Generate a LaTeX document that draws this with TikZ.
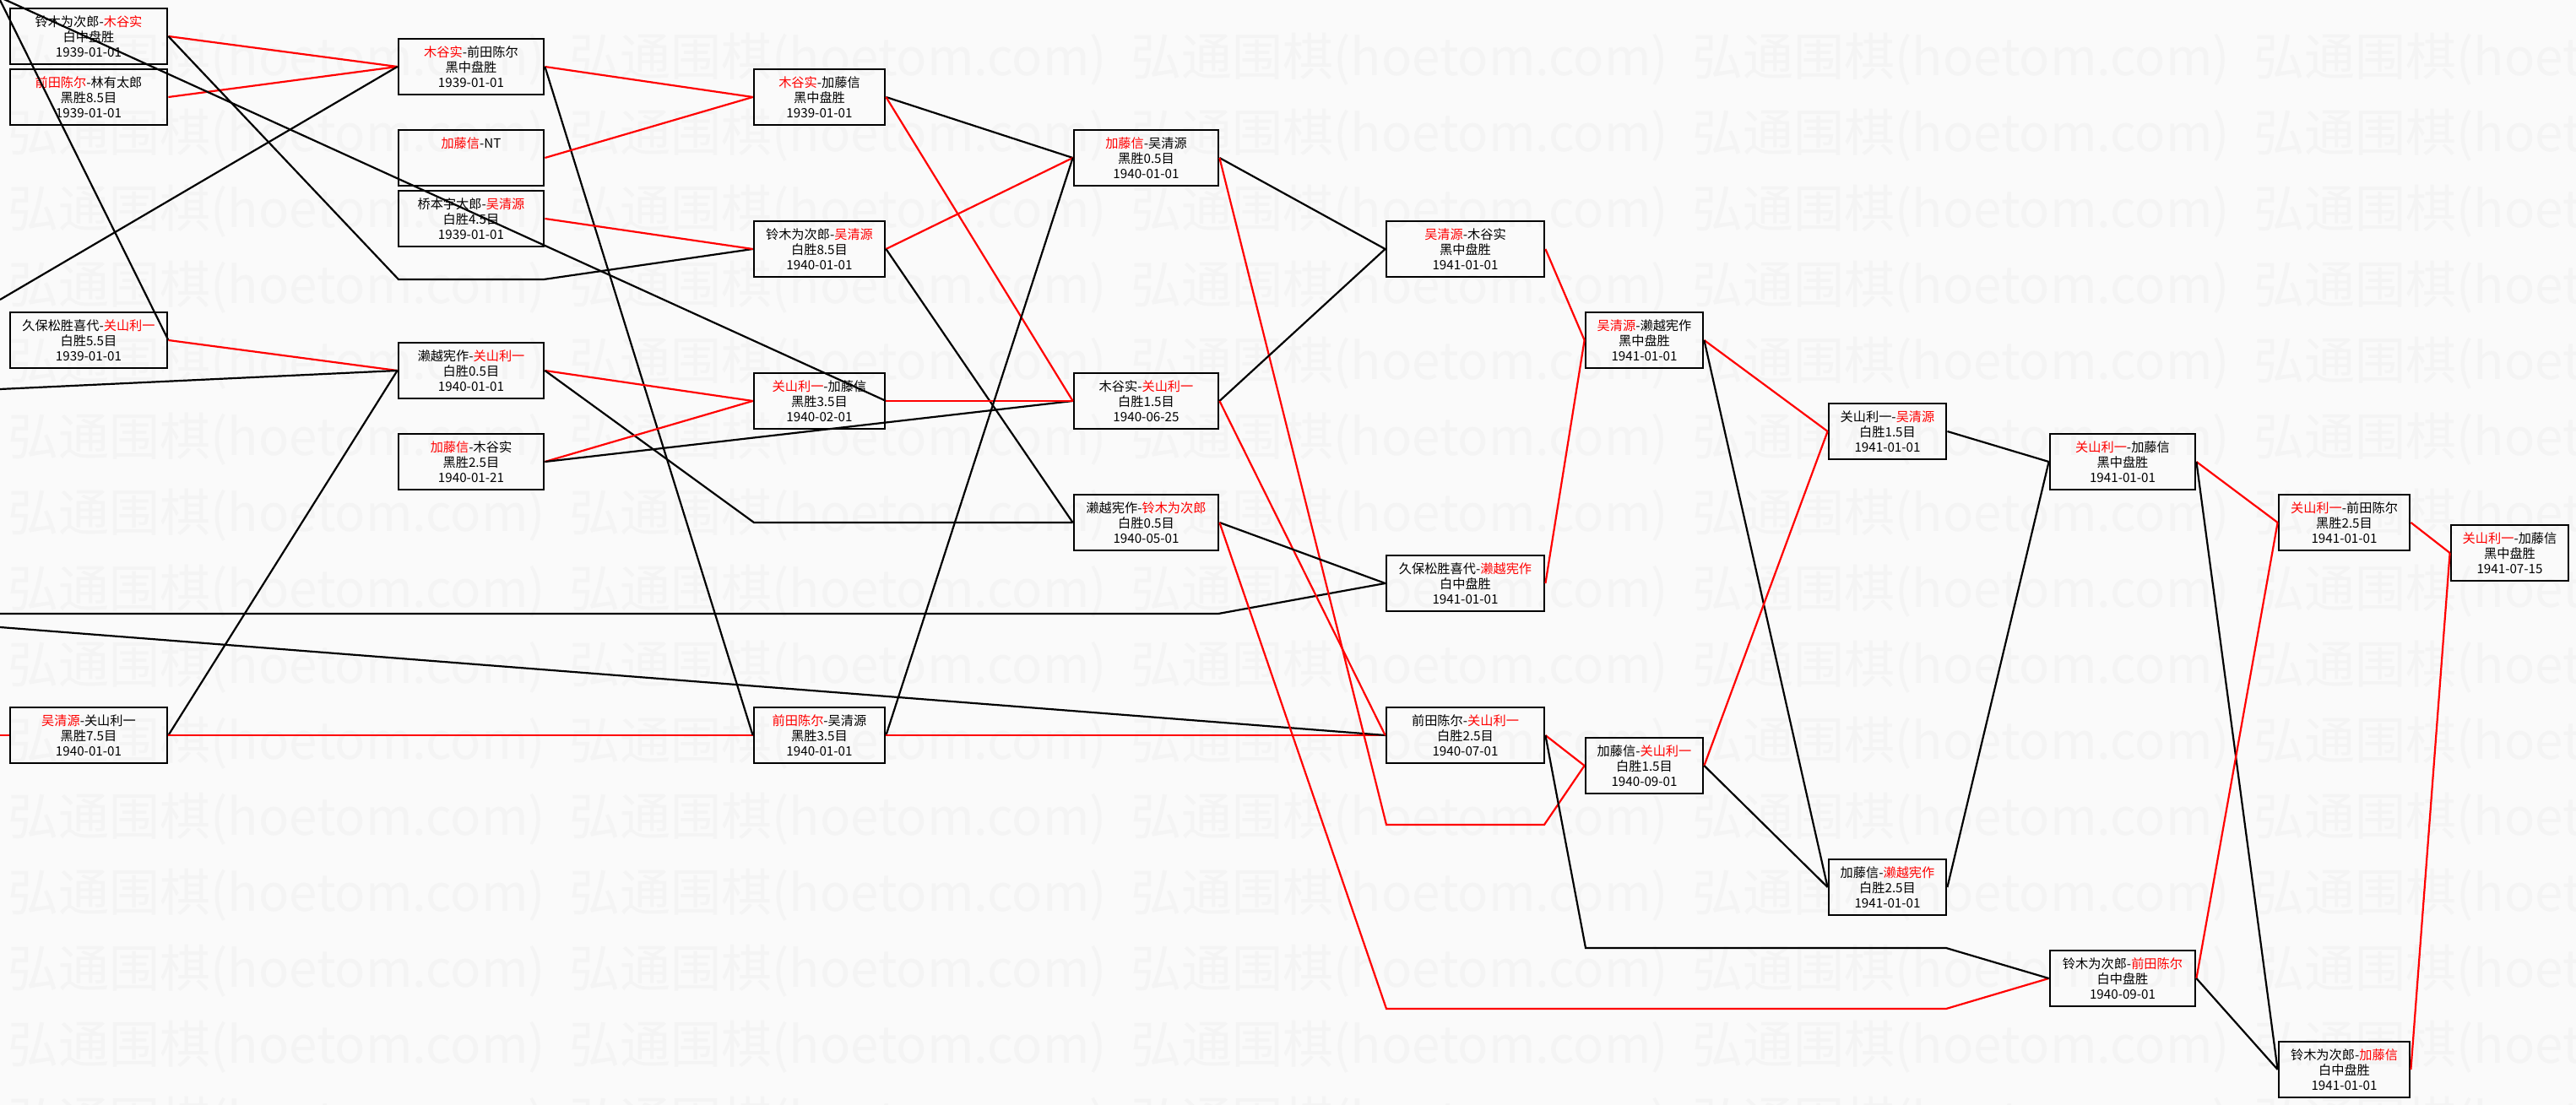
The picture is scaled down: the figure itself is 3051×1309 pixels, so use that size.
\documentclass[tikz,border=0pt]{standalone}
\usepackage{fontspec}
\setmainfont{Noto Sans CJK SC}
\usepackage{xcolor}
\newcommand{\wn}[1]{\textcolor{red}{#1}}

\begin{document}
\begin{tikzpicture}[x=0.5pt, y=-0.5pt,
    game/.style={draw, line width=1.4pt, inner sep=0pt, minimum width=#1, minimum height=33pt,
        align=center, font=\fontsize{7.6}{9}\selectfont},
    win/.style={red, line width=1.1pt},
    lose/.style={black, line width=1.1pt},
    wm/.style={anchor=west, inner sep=0pt, text=black!4.5, font=\fontsize{30}{30}\selectfont}]

    \useasboundingbox (0,0) rectangle (3051,1309);
    \clip (0,0) rectangle (3051,1309);
    \fill[black!2] (0,0) rectangle (3051,1309);

    % watermark
    \foreach \row in {0,...,14}
        \foreach \col in {0,...,4}
            \node[wm] (wm-\row-\col) at (9+665*\col, 70+90*\row) {弘通围棋(hoetom.com)};

    \node[game=93pt] (a1) at (105, 43) {铃木为次郎-\wn{木谷实}\\白中盘胜\\1939-01-01};
    \node[game=93pt] (a2) at (105, 115) {\wn{前田陈尔}-林有太郎\\黑胜8.5目\\1939-01-01};
    \node[game=93pt] (a3) at (105, 403) {久保松胜喜代-\wn{关山利一}\\白胜5.5目\\1939-01-01};
    \node[game=93pt] (a4) at (105, 871) {\wn{吴清源}-关山利一\\黑胜7.5目\\1940-01-01};

    \node[game=86pt] (b1) at (558, 79) {\wn{木谷实}-前田陈尔\\黑中盘胜\\1939-01-01};
    \node[game=86pt] (b2) at (558, 187) {\wn{加藤信}-NT\\\mbox{}\\\mbox{}};
    \node[game=86pt] (b3) at (558, 259) {桥本宇太郎-\wn{吴清源}\\白胜4.5目\\1939-01-01};
    \node[game=86pt] (b4) at (558, 439) {濑越宪作-\wn{关山利一}\\白胜0.5目\\1940-01-01};
    \node[game=86pt] (b5) at (558, 547) {\wn{加藤信}-木谷实\\黑胜2.5目\\1940-01-21};

    \node[game=77.5pt] (c1) at (970.5, 115) {\wn{木谷实}-加藤信\\黑中盘胜\\1939-01-01};
    \node[game=77.5pt] (c2) at (970.5, 295) {铃木为次郎-\wn{吴清源}\\白胜8.5目\\1940-01-01};
    \node[game=77.5pt] (c3) at (970.5, 475) {\wn{关山利一}-加藤信\\黑胜3.5目\\1940-02-01};
    \node[game=77.5pt] (c4) at (970.5, 871) {\wn{前田陈尔}-吴清源\\黑胜3.5目\\1940-01-01};

    \node[game=85.5pt] (d1) at (1357.5, 187) {\wn{加藤信}-吴清源\\黑胜0.5目\\1940-01-01};
    \node[game=85.5pt] (d2) at (1357.5, 475) {木谷实-\wn{关山利一}\\白胜1.5目\\1940-06-25};
    \node[game=85.5pt] (d3) at (1357.5, 619) {濑越宪作-\wn{铃木为次郎}\\白胜0.5目\\1940-05-01};

    \node[game=93.5pt] (e1) at (1735.5, 295) {\wn{吴清源}-木谷实\\黑中盘胜\\1941-01-01};
    \node[game=93.5pt] (e2) at (1735.5, 691) {久保松胜喜代-\wn{濑越宪作}\\白中盘胜\\1941-01-01};
    \node[game=93.5pt] (e3) at (1735.5, 871) {前田陈尔-\wn{关山利一}\\白胜2.5目\\1940-07-01};

    \node[game=69.5pt] (f1) at (1947.5, 403) {\wn{吴清源}-濑越宪作\\黑中盘胜\\1941-01-01};
    \node[game=69.5pt] (f2) at (1947.5, 907) {加藤信-\wn{关山利一}\\白胜1.5目\\1940-09-01};

    \node[game=69.5pt] (g1) at (2235.5, 511) {关山利一-\wn{吴清源}\\白胜1.5目\\1941-01-01};
    \node[game=69.5pt] (g2) at (2235.5, 1051) {加藤信-\wn{濑越宪作}\\白胜2.5目\\1941-01-01};

    \node[game=86pt] (h1) at (2514, 547) {\wn{关山利一}-加藤信\\黑中盘胜\\1941-01-01};
    \node[game=86pt] (h2) at (2514, 1159) {铃木为次郎-\wn{前田陈尔}\\白中盘胜\\1940-09-01};

    \node[game=77.5pt] (i1) at (2776.5, 619) {\wn{关山利一}-前田陈尔\\黑胜2.5目\\1941-01-01};
    \node[game=77.5pt] (i2) at (2776.5, 1267) {铃木为次郎-\wn{加藤信}\\白中盘胜\\1941-01-01};

    \node[game=69.5pt] (j1) at (2972.5, 655) {\wn{关山利一}-加藤信\\黑中盘胜\\1941-07-15};

    % ends outside the picture
    \coordinate (tl) at (-2, -4);
    \coordinate (l1) at (0, 355);
    \coordinate (l2) at (0, 461);
    \coordinate (l3) at (0, 727);
    \coordinate (l4) at (0, 743);
    \coordinate (l5) at (0, 871);

    \draw[win] (a1.east) -- (b1.west);
    \draw[win] (a2.east) -- (b1.west);
    \draw[lose] (l1) -- (b1.west);
    \draw[lose] (a1.east) -- (472, 331) -- (644, 331) -- (c2.west);
    \draw[lose] (tl) -- (a3.east);
    \draw[lose] (tl) -- (c3.east);
    \draw[win] (a3.east) -- (b4.west);
    \draw[lose] (l2) -- (b4.west);
    \draw[lose] (a4.east) -- (b4.west);
    \draw[win] (l5) -- (a4.west);
    \draw[win] (a4.east) -- (c4.west);

    \draw[win] (b1.east) -- (c1.west);
    \draw[lose] (b1.east) -- (c4.west);
    \draw[win] (b2.east) -- (c1.west);
    \draw[win] (b3.east) -- (c2.west);
    \draw[win] (b4.east) -- (c3.west);
    \draw[lose] (b4.east) -- (893, 619) -- (d3.west);
    \draw[win] (b5.east) -- (c3.west);
    \draw[lose] (b5.east) -- (d2.west);

    \draw[lose] (c1.east) -- (d1.west);
    \draw[win] (c1.east) -- (d2.west);
    \draw[win] (c2.east) -- (d1.west);
    \draw[lose] (c2.east) -- (d3.west);
    \draw[win] (c3.east) -- (d2.west);
    \draw[lose] (c4.east) -- (d1.west);
    \draw[win] (c4.east) -- (e3.west);
    \draw[lose] (l3) -- (1443, 727) -- (e2.west);
    \draw[lose] (l4) -- (e3.west);

    \draw[lose] (d1.east) -- (e1.west);
    \draw[win] (d1.east) -- (1642, 977) -- (1829, 977) -- (f2.west);
    \draw[lose] (d2.east) -- (e1.west);
    \draw[win] (d2.east) -- (e3.west);
    \draw[lose] (d3.east) -- (e2.west);
    \draw[win] (d3.east) -- (1642, 1195) -- (2305, 1195) -- (h2.west);

    \draw[win] (e1.east) -- (f1.west);
    \draw[win] (e2.east) -- (f1.west);
    \draw[win] (e3.east) -- (f2.west);
    \draw[lose] (e3.east) -- (1878, 1123) -- (2305, 1123) -- (h2.west);

    \draw[win] (f1.east) -- (g1.west);
    \draw[lose] (f1.east) -- (g2.west);
    \draw[win] (f2.east) -- (g1.west);
    \draw[lose] (f2.east) -- (g2.west);

    \draw[lose] (g1.east) -- (h1.west);
    \draw[lose] (g2.east) -- (h1.west);

    \draw[win] (h1.east) -- (i1.west);
    \draw[lose] (h1.east) -- (i2.west);
    \draw[win] (h2.east) -- (i1.west);
    \draw[lose] (h2.east) -- (i2.west);

    \draw[win] (i1.east) -- (j1.west);
    \draw[win] (i2.east) -- (j1.west);
\end{tikzpicture}
\end{document}
